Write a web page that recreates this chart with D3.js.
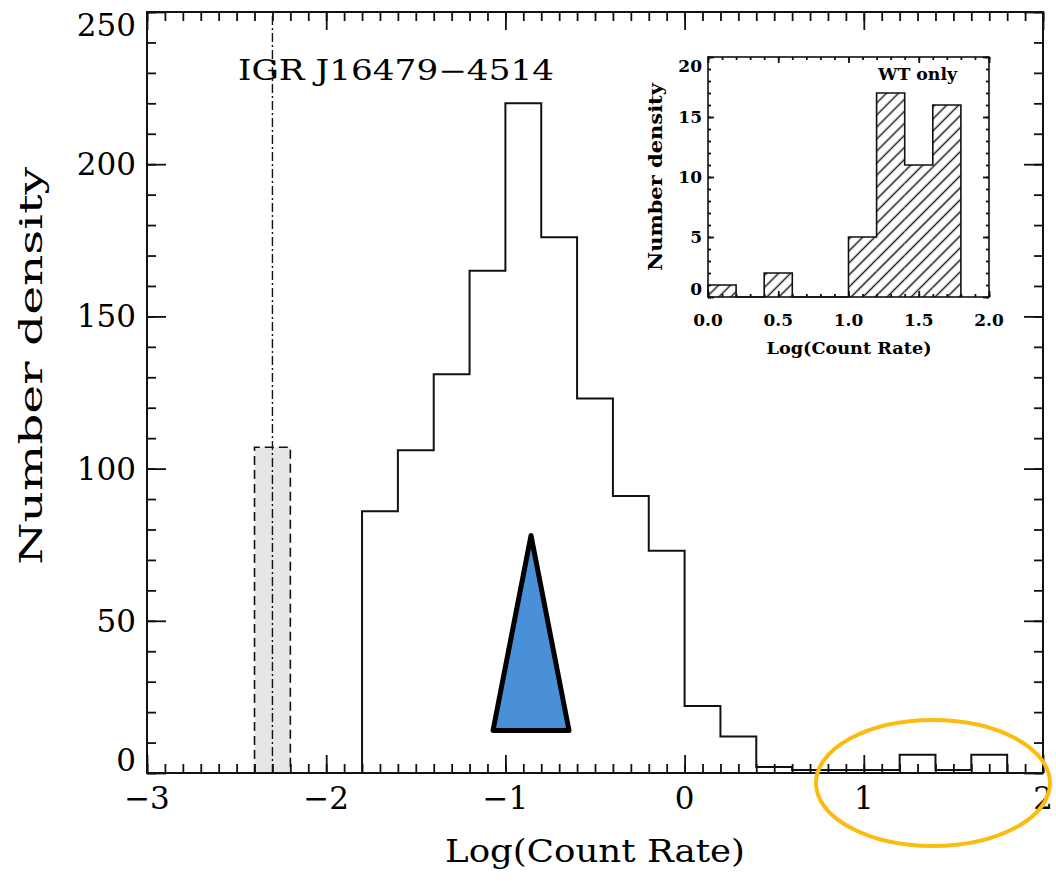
<!DOCTYPE html>
<html lang="en">
<head>
    <meta charset="UTF-8">
    <title>Count rate histogram</title>
    <style>
        body { margin: 0; background: #fff; }
        svg { display: block; }
        text { font-family: "DejaVu Serif", serif; fill: #000; }
    </style>
</head>
<body>
    <script src="https://cdn.jsdelivr.net/npm/d3@7"></script>
    <script type="text/javascript">
        // main histogram, bins of 0.2 in log(count rate)
        var binStart = -1.8;
        var binWidth = 0.2;
        var counts = [86, 106, 131, 165, 220, 176, 123, 91, 73, 22, 12, 2, 1, 1, 1, 6, 1, 6];

        // inset: WT mode only
        var wtStart = 0.0;
        var wtCounts = [1, 0, 2, 0, 0, 5, 17, 11, 16];

        // IGR J16479-4514 band and marker
        var igrBand = [-2.4, -2.2];
        var igrHeight = 107;
        var igrLine = -2.3;

        var xTickLabels = [-3, -2, -1, 0, 1, 2];
        var yTickLabels = [0, 50, 100, 150, 200, 250];
        var wtXTicks = [0.0, 0.5, 1.0, 1.5, 2.0];
        var wtYTicks = [0, 5, 10, 15, 20];

        // annotations (data units)
        var triX = [-0.857, -1.069, -0.645];
        var triY = [78, 14, 14];
        var ringCenter = [1.386, -3.3];
        var ringRadius = [0.653, 20.7];

        var w = 1056, h = 886;
        var svg = d3.select("body").append("svg").attr("width", w).attr("height", h);

        var x = d3.scaleLinear().domain([-3, 2]).range([147, 1043]);
        var y = d3.scaleLinear().domain([0, 250]).range([773, 12]);

        // hatch pattern for the inset
        svg.append("defs").append("pattern")
            .attr("id", "hatch")
            .attr("patternUnits", "userSpaceOnUse")
            .attr("width", 8.5)
            .attr("height", 8.5)
            .attr("patternTransform", "rotate(45)")
            .append("line")
            .attr("x1", 4.25).attr("y1", 0)
            .attr("x2", 4.25).attr("y2", 8.5)
            .attr("stroke", "#222")
            .attr("stroke-width", 1.5);

        // grey band + dash-dot line
        svg.append("rect")
            .attr("x", x(igrBand[0]))
            .attr("y", y(igrHeight))
            .attr("width", x(igrBand[1]) - x(igrBand[0]))
            .attr("height", y(0) - y(igrHeight))
            .attr("fill", "#e6e6e6");
        svg.append("path")
            .attr("d", d3.line()([[x(igrBand[0]), y(0)], [x(igrBand[0]), y(igrHeight)],
                                  [x(igrBand[1]), y(igrHeight)], [x(igrBand[1]), y(0)]]))
            .attr("fill", "none")
            .attr("stroke", "#111")
            .attr("stroke-width", 1.6)
            .attr("stroke-dasharray", "9,5");
        svg.append("line")
            .attr("x1", x(igrLine)).attr("x2", x(igrLine))
            .attr("y1", y(0)).attr("y2", y(250))
            .attr("stroke", "#111")
            .attr("stroke-width", 1.4)
            .attr("stroke-dasharray", "9,3,2,3");

        // step outline helper
        function stepPoints(start, width, vals){
            var pts = [[start, 0]];
            vals.forEach(function(v, i){
                pts.push([start + i * width, v]);
                pts.push([start + (i + 1) * width, v]);
            });
            pts.push([start + vals.length * width, 0]);
            return pts;
        }

        svg.append("path")
            .attr("d", d3.line()
                .x(function(d){ return x(d[0]); })
                .y(function(d){ return y(d[1]); })(stepPoints(binStart, binWidth, counts)))
            .attr("fill", "none")
            .attr("stroke", "#111")
            .attr("stroke-width", 2);

        // frame and ticks
        function ticks(g, axis, minor, major, len){
            g.call(axis.tickValues(minor).tickSize(len[0]).tickFormat(""));
            g.select(".domain").remove();
            var g2 = g.append("g");
            g2.call(axis.tickValues(major).tickSize(len[1]).tickFormat(""));
            g2.select(".domain").remove();
            g.selectAll("line").attr("stroke", "#111").attr("stroke-width", 1.8);
        }
        var xMinor = d3.range(-30, 21).map(function(d){ return d / 10; });
        var yMinor = d3.range(0, 26).map(function(d){ return d * 10; });
        ticks(svg.append("g").attr("transform", "translate(0," + y(0) + ")"), d3.axisBottom(x), xMinor, xTickLabels, [-9, -18]);
        ticks(svg.append("g").attr("transform", "translate(0," + y(250) + ")"), d3.axisTop(x), xMinor, xTickLabels, [-9, -18]);
        ticks(svg.append("g").attr("transform", "translate(" + x(-3) + ",0)"), d3.axisLeft(y), yMinor, yTickLabels, [-9, -19]);
        ticks(svg.append("g").attr("transform", "translate(" + x(2) + ",0)"), d3.axisRight(y), yMinor, yTickLabels, [-9, -19]);

        svg.append("rect")
            .attr("x", x(-3)).attr("y", y(250))
            .attr("width", x(2) - x(-3)).attr("height", y(0) - y(250))
            .attr("fill", "none").attr("stroke", "#111").attr("stroke-width", 2);

        svg.selectAll("text.xl")
            .data(xTickLabels)
            .enter()
            .append("text")
            .attr("class", "xl")
            .attr("x", function(d){ return x(d); })
            .attr("y", 809)
            .attr("text-anchor", "middle")
            .attr("font-size", "31px")
            .text(function(d){ return d3.format("d")(d); });

        svg.selectAll("text.yl")
            .data(yTickLabels)
            .enter()
            .append("text")
            .attr("class", "yl")
            .attr("x", 136)
            .attr("y", function(d){
                var shift = d === 0 ? -13 : (d === 250 ? 13 : 0);
                return y(d) + shift + 11;
            })
            .attr("text-anchor", "end")
            .attr("font-size", "31px")
            .text(function(d){ return d; });

        svg.append("text")
            .attr("x", 595).attr("y", 862)
            .attr("text-anchor", "middle")
            .attr("font-size", "31px")
            .attr("textLength", 300)
            .attr("lengthAdjust", "spacingAndGlyphs")
            .text("Log(Count Rate)");

        svg.append("text")
            .attr("transform", "translate(42,366) rotate(-90)")
            .attr("text-anchor", "middle")
            .attr("font-size", "32px")
            .attr("textLength", 398)
            .attr("lengthAdjust", "spacingAndGlyphs")
            .text("Number density");

        svg.append("text")
            .attr("x", 238).attr("y", 80)
            .attr("font-size", "27px")
            .attr("textLength", 316)
            .attr("lengthAdjust", "spacingAndGlyphs")
            .text("IGR J16479\u22124514");

        // ---- inset ----
        var ix = d3.scaleLinear().domain([0, 2]).range([708, 989]);
        var iy = d3.scaleLinear().domain([0, 20]).range([297, 57]);

        svg.append("rect")
            .attr("x", ix(0)).attr("y", iy(20))
            .attr("width", ix(2) - ix(0)).attr("height", iy(0) - iy(20))
            .attr("fill", "#fff");

        svg.selectAll("rect.wt")
            .data(wtCounts)
            .enter()
            .append("rect")
            .attr("class", "wt")
            .attr("x", function(d, i){ return ix(wtStart + i * binWidth); })
            .attr("y", function(d){ return iy(d); })
            .attr("width", ix(binWidth) - ix(0))
            .attr("height", function(d){ return iy(0) - iy(d); })
            .attr("fill", "url(#hatch)");

        svg.append("path")
            .attr("d", d3.line()
                .x(function(d){ return ix(d[0]); })
                .y(function(d){ return iy(d[1]); })(stepPoints(wtStart, binWidth, wtCounts)))
            .attr("fill", "none")
            .attr("stroke", "#111")
            .attr("stroke-width", 1.6);

        var ixMinor = d3.range(0, 21).map(function(d){ return d / 10; });
        var iyMinor = d3.range(0, 21);
        ticks(svg.append("g").attr("transform", "translate(0," + iy(0) + ")"), d3.axisBottom(ix), ixMinor, wtXTicks, [-3, -6]);
        ticks(svg.append("g").attr("transform", "translate(0," + iy(20) + ")"), d3.axisTop(ix), ixMinor, wtXTicks, [-3, -6]);
        ticks(svg.append("g").attr("transform", "translate(" + ix(0) + ",0)"), d3.axisLeft(iy), iyMinor, wtYTicks, [-3, -6]);
        ticks(svg.append("g").attr("transform", "translate(" + ix(2) + ",0)"), d3.axisRight(iy), iyMinor, wtYTicks, [-3, -6]);

        svg.append("rect")
            .attr("x", ix(0)).attr("y", iy(20))
            .attr("width", ix(2) - ix(0)).attr("height", iy(0) - iy(20))
            .attr("fill", "none").attr("stroke", "#111").attr("stroke-width", 1.6);

        svg.selectAll("text.ixl")
            .data(wtXTicks)
            .enter()
            .append("text")
            .attr("class", "ixl")
            .attr("x", function(d){ return ix(d); })
            .attr("y", 326)
            .attr("text-anchor", "middle")
            .attr("font-size", "17px")
            .attr("font-weight", "bold")
            .text(function(d){ return d3.format(".1f")(d); });

        svg.selectAll("text.iyl")
            .data(wtYTicks)
            .enter()
            .append("text")
            .attr("class", "iyl")
            .attr("x", 702)
            .attr("y", function(d){
                var shift = d === 0 ? -8 : (d === 20 ? 9 : 0);
                return iy(d) + shift + 6;
            })
            .attr("text-anchor", "end")
            .attr("font-size", "17px")
            .attr("font-weight", "bold")
            .text(function(d){ return d; });

        svg.append("text")
            .attr("x", 849).attr("y", 354)
            .attr("text-anchor", "middle")
            .attr("font-size", "17px")
            .attr("font-weight", "bold")
            .attr("textLength", 165)
            .attr("lengthAdjust", "spacingAndGlyphs")
            .text("Log(Count Rate)");

        svg.append("text")
            .attr("transform", "translate(662,177) rotate(-90)")
            .attr("text-anchor", "middle")
            .attr("font-size", "18px")
            .attr("font-weight", "bold")
            .attr("textLength", 188)
            .attr("lengthAdjust", "spacingAndGlyphs")
            .text("Number density");

        svg.append("text")
            .attr("x", 878).attr("y", 80)
            .attr("font-size", "16px")
            .attr("font-weight", "bold")
            .attr("textLength", 79)
            .attr("lengthAdjust", "spacingAndGlyphs")
            .text("WT only");

        // ---- annotations ----
        svg.append("polygon")
            .attr("points", triX.map(function(d, i){ return x(d) + "," + y(triY[i]); }).join(" "))
            .attr("fill", "#4a90d9")
            .attr("stroke", "#000")
            .attr("stroke-width", 5)
            .attr("stroke-linejoin", "round");

        svg.append("ellipse")
            .attr("cx", x(ringCenter[0]))
            .attr("cy", y(ringCenter[1]))
            .attr("rx", x(ringRadius[0]) - x(0))
            .attr("ry", y(0) - y(ringRadius[1]))
            .attr("fill", "none")
            .attr("stroke", "#fdbb10")
            .attr("stroke-width", 4);
    </script>
</body>
</html>
